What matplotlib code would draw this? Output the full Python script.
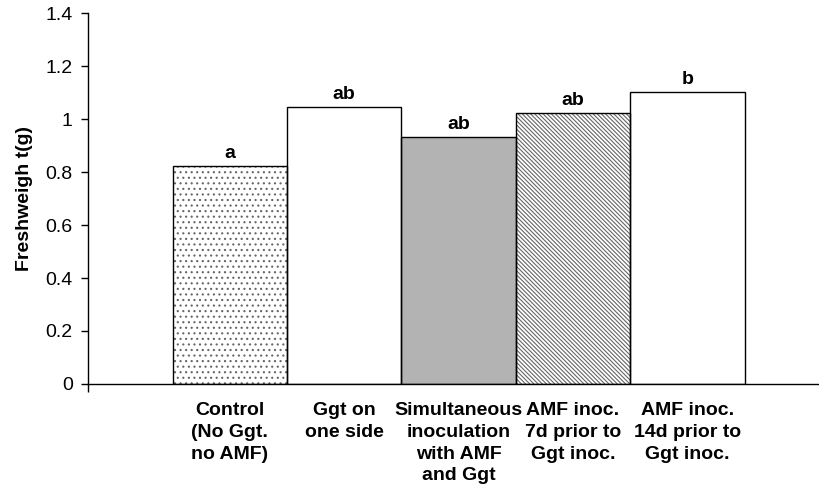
import matplotlib
matplotlib.use("Agg")
import matplotlib.pyplot as plt

# ------------------------------------
# Data
# ------------------------------------
categories = [
    "Control\n(No Ggt.\nno AMF)",
    "Ggt on\none side",
    "Simultaneous\ninoculation\nwith AMF\nand Ggt",
    "AMF inoc.\n7d prior to\nGgt inoc.",
    "AMF inoc.\n14d prior to\nGgt inoc.",
]
fresh_weight = [0.823, 1.045, 0.932, 1.023, 1.102]
letters = ["a", "ab", "ab", "ab", "b"]

fills = ["white", "white", "#b3b3b3", "white", "white"]
hatches = ["...", "", "", "\\" * 8, ""]

plt.rcParams["font.family"] = ["Liberation Sans", "DejaVu Sans"]
plt.rcParams["hatch.linewidth"] = 0.8

fig = plt.figure(figsize=(8.19, 4.87), dpi=100)
ax = fig.add_axes([0.1074, 0.2115, 0.8926, 0.7618])

x = list(range(len(categories)))

# fill + hatch (gray hatch), then black outline on top
ax.bar(x, fresh_weight, width=1.0, color=fills, edgecolor="#666666",
       hatch=hatches, linewidth=0)
ax.bar(x, fresh_weight, width=1.0, fill=False, edgecolor="black",
       linewidth=1.0)

for xi, v, lab in zip(x, fresh_weight, letters):
    ax.annotate(lab, (xi, v), xytext=(0, 3), textcoords="offset points",
                ha="center", va="bottom", fontsize=14, fontweight="bold")

ax.set_xlim(-1.24, 5.15)
ax.set_ylim(0, 1.4)
ax.set_yticks([0, 0.2, 0.4, 0.6, 0.8, 1.0, 1.2, 1.4])
ax.set_yticklabels(["0", "0.2", "0.4", "0.6", "0.8", "1", "1.2", "1.4"])
ax.tick_params(axis="y", labelsize=14, length=5, width=1, pad=6)

ax.set_xticks(x)
ax.set_xticklabels(categories, fontsize=14, fontweight="bold",
                   linespacing=1.37)
ax.tick_params(axis="x", length=0, pad=13)
ax.set_xticks([-1.24], minor=True)
ax.tick_params(axis="x", which="minor", length=6, width=1)

ax.set_ylabel("Freshweigh t(g)", fontsize=14, fontweight="bold", labelpad=9)

ax.spines["top"].set_visible(False)
ax.spines["right"].set_visible(False)
ax.spines["left"].set_linewidth(1)
ax.spines["bottom"].set_linewidth(1)

fig.savefig("out.png", dpi=100)
